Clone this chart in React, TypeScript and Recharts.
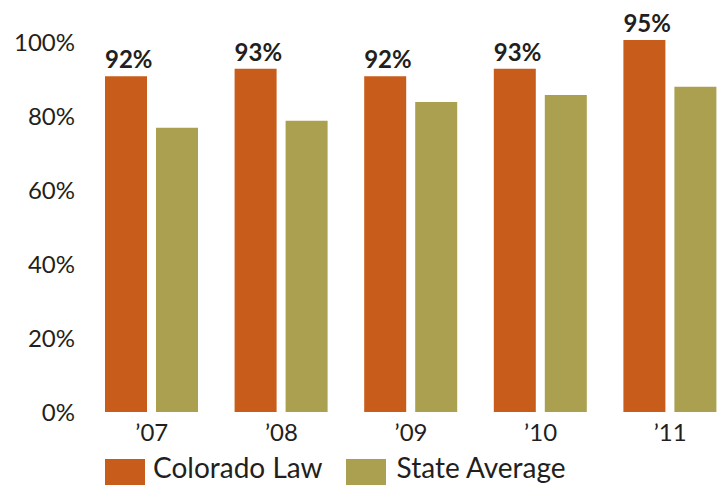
import { BarChart, Bar, XAxis, YAxis, LabelList } from "recharts";

const years = ["\u201907", "\u201908", "\u201909", "\u201910", "\u201911"];
const coloradoLaw = [91, 93, 91, 93, 100.8];
const stateAverage = [77, 78.9, 84, 85.9, 88.1];
const coloradoLabels = ["92%", "93%", "92%", "93%", "95%"];
const yTicks = [0, 20, 40, 60, 80, 100];

const data = years.map((year, i) => ({
  year,
  colorado: coloradoLaw[i],
  state: stateAverage[i],
}));

const ORANGE = "#C85C1A";
const OLIVE = "#AAA050";
const TEXT = "#231F20";
const FONT = "Lato, 'Open Sans', sans-serif";

const BarTopLabel = (props: any) => {
  const { x, y, index } = props;
  return (
    <text
      x={x}
      y={y - 8}
      textAnchor="start"
      fill={TEXT}
      fontSize={24}
      fontWeight={700}
      fontFamily={FONT}
    >
      {coloradoLabels[index]}
    </text>
  );
};

export default function App() {
  return (
    <div
      style={{
        position: "absolute",
        left: 0,
        top: 0,
        width: 721,
        height: 485,
        overflow: "hidden",
        background: "#fff",
        fontFamily: FONT,
      }}
    >
      <BarChart
        width={735}
        height={485}
        data={data}
        margin={{ top: 6, right: 0, left: 0, bottom: 43 }}
        barSize={42}
        barGap={9}
      >
        <XAxis
          dataKey="year"
          axisLine={false}
          tickLine={false}
          tickSize={0}
          tickMargin={12}
          height={30}
          interval={0}
          tick={{ fill: TEXT, fontSize: 24, fontFamily: FONT }}
        />
        <YAxis
          domain={[0, 110]}
          ticks={yTicks}
          width={87}
          axisLine={false}
          tickLine={false}
          tickSize={0}
          tickMargin={12}
          tickFormatter={(v: number) => `${v}%`}
          tick={{ fill: TEXT, fontSize: 24, fontFamily: FONT }}
        />
        <Bar dataKey="colorado" fill={ORANGE} isAnimationActive={false}>
          <LabelList dataKey="colorado" content={BarTopLabel} />
        </Bar>
        <Bar dataKey="state" fill={OLIVE} isAnimationActive={false} />
      </BarChart>
      <div
        style={{
          position: "absolute",
          left: 105,
          top: 459,
          display: "flex",
          alignItems: "flex-start",
          fontSize: 28,
          color: TEXT,
          lineHeight: "28px",
        }}
      >
        <div style={{ width: 40, height: 30, background: ORANGE }} />
        <span style={{ marginLeft: 8, marginRight: 23, position: "relative", top: -6 }}>
          Colorado Law
        </span>
        <div style={{ width: 40, height: 30, background: OLIVE }} />
        <span style={{ marginLeft: 11, position: "relative", top: -6 }}>
          State Average
        </span>
      </div>
    </div>
  );
}
